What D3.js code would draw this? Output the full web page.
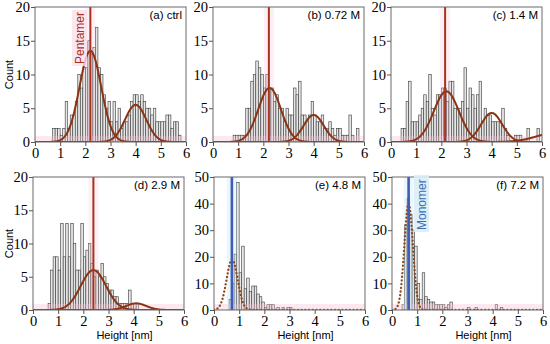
<!DOCTYPE html>
<html>
<head>
<meta charset="utf-8">
<script src="https://cdn.jsdelivr.net/npm/d3@7/dist/d3.min.js"></script>
<style>
  body { margin: 0; background: #fff; }
  svg { display: block; }
  .lbl { font-family: "Liberation Sans", Arial, sans-serif; fill: #000; }
</style>
</head>
<body>
<svg id="chart" width="550" height="344"></svg>
<script>
// histogram bin width, nm
var binWidth = 0.1;

var panelLabels = ["(a) ctrl", "(b) 0.72 M", "(c) 1.4 M", "(d) 2.9 M", "(e) 4.8 M", "(f) 7.2 M"];
var xTickValues = [0, 1, 2, 3, 4, 5, 6];
var yMax = [20, 20, 20, 20, 50, 50];
var yTicks20 = [0, 5, 10, 15, 20];
var yTicks50 = [0, 10, 20, 30, 40, 50];

// first bin edge of each histogram
var histStart = [0.7, 0.8, 0.4, 0.6, 0.6, 0.4];

var countsA = [2,2,2,1,2,6,2,4,4,6,10,8,11,11,15,13,14,17,11,10,7,5,6,3,6,3,5,2,3,3,4,6,7,7,6,7,6,5,5,4,5,3,3,3,3,4,4,2,3,3,1];
var countsB = [1,1,1,1,1,5,5,9,10,12,11,10,8,10,8,8,6,7,5,5,3,5,4,4,8,7,9,4,4,3,4,6,4,3,3,4,2,2,3,2,1,2,2,1,1,1,4,1,0,2];
var countsC = [2,2,6,9,3,3,3,4,5,7,6,10,5,4,7,7,8,8,6,9,9,5,5,5,6,11,5,8,7,5,7,9,3,5,4,4,3,3,3,3,5,2,1,0,0,1,1,1,0,0,2,0,0,0,2];
var countsD = [1,6,8,8,6,13,8,13,8,13,10,6,6,13,8,9,10,7,5,6,5,7,5,4,3,3,2,2,1,1,1,1,3,1,1,1];
var countsE = [4,10,21,48,14,24,8,12,7,9,9,6,5,3,1,2,2,2,0,1,0,1,0,1,1];
var countsF = [2,32,42,36,30,24,10,4,14,5,4,3,3,2,2,2,2,1,2,3,0,0,0,0,0,0,1,0,0,1,0,0,0,0,0,0,0,2,0,1];

// gaussian fits: [centre nm, amplitude count, sigma nm]
var fitsA = [[2.2, 13.5, 0.43], [4.0, 5.5, 0.42]];
var fitsB = [[2.25, 8.0, 0.45], [4.0, 4.0, 0.4]];
var fitsC = [[2.2, 7.5, 0.5], [4.0, 4.3, 0.42], [6.6, 1.4, 0.8]];
var fitsD = [[2.4, 6.0, 0.5], [4.1, 1.0, 0.4]];
var fitsE = [[0.72, 19, 0.22]];
var fitsF = [[0.66, 40, 0.17]];

// reference heights (pentamer / monomer)
var markerX = [2.2, 2.22, 2.15, 2.4, 0.71, 0.66];

var counts = [countsA, countsB, countsC, countsD, countsE, countsF];
var fits = [fitsA, fitsB, fitsC, fitsD, fitsE, fitsF];

// layout
var colX = [[35, 213, 391], [33, 214, 392]];
var rowY = [7, 177];
var plotW = 151;
var rowH = [135, 133];

var svg = d3.select("#chart");

function gauss(p, x) {
    return p[1] * Math.exp(-(x - p[0]) * (x - p[0]) / (2 * p[2] * p[2]));
}

var sampleX = d3.range(0, 6.001, 0.02);

function styleTicks(axisG) {
    axisG.select(".domain").remove();
    axisG.selectAll(".tick line").attr("stroke", "#555");
    axisG.selectAll(".tick text")
        .style("font-family", "'Liberation Serif', 'Times New Roman', serif")
        .style("font-size", "14.5px")
        .attr("fill", "#000");
}

panelLabels.forEach(function (label, i) {
    var row = i < 3 ? 0 : 1;
    var col = i % 3;
    var x0 = colX[row][col], y0 = rowY[row], h = rowH[row];
    var mono = i >= 4;

    var x = d3.scaleLinear().domain([0, 6]).range([x0, x0 + plotW]);
    var y = d3.scaleLinear().domain([0, yMax[i]]).range([y0 + h, y0]);

    var g = svg.append("g");
    g.append("clipPath").attr("id", "clip" + i)
        .append("rect").attr("x", x0).attr("y", y0).attr("width", plotW).attr("height", h);
    var plot = g.append("g").attr("clip-path", "url(#clip" + i + ")");

    // histogram bars
    var bins = counts[i].map(function (c, k) {
        return { x: histStart[i] + k * binWidth, c: c };
    }).filter(function (b) { return b.c > 0; });
    plot.selectAll("rect.bar").data(bins).enter().append("rect")
        .attr("class", "bar")
        .attr("x", function (b) { return x(b.x); })
        .attr("width", x(binWidth) - x(0))
        .attr("y", function (b) { return y(b.c); })
        .attr("height", function (b) { return y(0) - y(b.c); })
        .attr("fill", "#e6e6e6")
        .attr("stroke", "#444")
        .attr("stroke-width", 0.65);

    // light highlight along the baseline and around the reference line
    plot.append("rect")
        .attr("x", x0).attr("width", plotW)
        .attr("y", y0 + h - 6).attr("height", 6)
        .attr("fill", "#f7bfd5").attr("opacity", 0.35);
    plot.append("rect")
        .attr("x", x(markerX[i] - 0.2)).attr("width", x(0.4) - x(0))
        .attr("y", y0).attr("height", h)
        .attr("fill", mono ? "#bfe6f2" : "#f7c3d8").attr("opacity", mono ? 0.3 : 0.25);

    // fitted gaussians
    var line = d3.line()
        .x(function (d) { return x(d); });
    fits[i].forEach(function (p) {
        plot.append("path")
            .datum(sampleX)
            .attr("d", line.y(function (d) { return y(gauss(p, d)); }))
            .attr("fill", "none")
            .attr("stroke", mono ? "#8e4a1e" : "#8a3414")
            .attr("stroke-width", mono ? 2.3 : 2)
            .attr("stroke-linecap", "round")
            .attr("stroke-dasharray", mono ? "0.1,3.6" : null);
    });

    // reference line
    plot.append("line")
        .attr("x1", x(markerX[i])).attr("x2", x(markerX[i]))
        .attr("y1", y0).attr("y2", y0 + h)
        .attr("stroke", mono ? "#3f5cb8" : "#a8321e")
        .attr("stroke-width", mono ? 2.6 : 2);

    // frame
    g.append("rect")
        .attr("x", x0).attr("y", y0).attr("width", plotW).attr("height", h)
        .attr("fill", "none").attr("stroke", "#6a6a6a").attr("stroke-width", 1);

    // axes
    var xAxis = g.append("g")
        .attr("transform", "translate(0," + (y0 + h) + ")")
        .call(d3.axisBottom(x).tickValues(xTickValues).tickFormat(d3.format("d"))
            .tickSize(4).tickSizeOuter(0).tickPadding(2));
    styleTicks(xAxis);
    var yAxis = g.append("g")
        .attr("transform", "translate(" + x0 + ",0)")
        .call(d3.axisLeft(y).tickValues(mono ? yTicks50 : yTicks20).tickFormat(d3.format("d"))
            .tickSize(4).tickSizeOuter(0).tickPadding(1));
    styleTicks(yAxis);

    // panel label
    g.append("text").attr("class", "lbl")
        .attr("x", x0 + plotW - 4).attr("y", y0 + 12)
        .attr("text-anchor", "end")
        .style("font-size", "11.5px")
        .text(label);

    if (col === 0) {
        g.append("text").attr("class", "lbl")
            .attr("transform", "translate(13," + (y0 + h / 2) + ") rotate(-90)")
            .attr("text-anchor", "middle")
            .style("font-size", "11px")
            .text("Count");
    }
    if (row === 1) {
        g.append("text").attr("class", "lbl")
            .attr("x", x0 + plotW / 2 + 16).attr("y", 339)
            .attr("text-anchor", "middle")
            .style("font-size", "11px")
            .text("Height [nm]");
    }
});

// annotations
svg.append("rect").attr("x", 72).attr("y", 10).attr("width", 15).attr("height", 56)
    .attr("fill", "#fbe0eb").attr("opacity", 0.8);
svg.append("text").attr("class", "lbl")
    .attr("transform", "translate(84,64) rotate(-90)")
    .style("font-size", "12px").style("fill", "#a8321e")
    .text("Pentamer");

svg.append("rect").attr("x", 414).attr("y", 175).attr("width", 15).attr("height", 57)
    .attr("fill", "#d9eef6").attr("opacity", 0.9);
svg.append("text").attr("class", "lbl")
    .attr("transform", "translate(426,230) rotate(-90)")
    .style("font-size", "12px").style("fill", "#3f6cb8")
    .text("Monomer");
</script>
</body>
</html>
